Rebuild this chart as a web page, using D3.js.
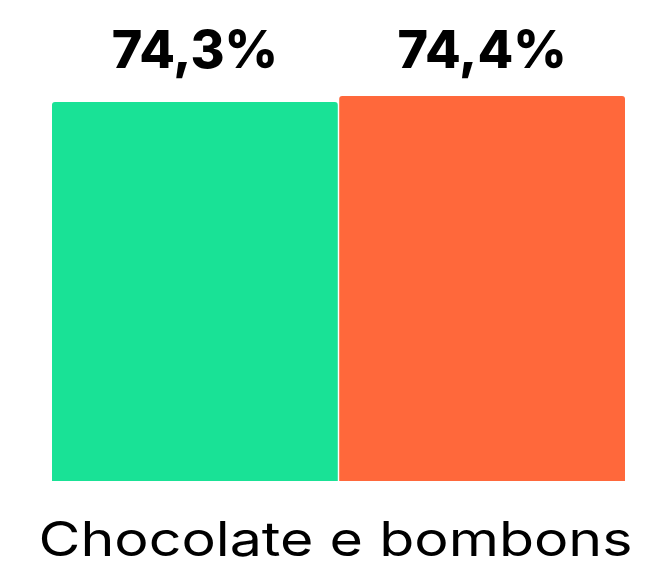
<!DOCTYPE html>
<meta charset="utf-8">
<title>bar chart</title>
<style>
    body { margin: 0; background: #fff; }
    text { font-family: Inter, "Open Sans", sans-serif; }
</style>
<body>
    <script src="https://d3js.org/d3.v7.min.js"></script>
    <div id="chart"></div>
    <script>
        var width = 646;
        var height = 567;

        // data
        var categories = ["Chocolate e bombons"];
        var series = ["A", "B"];
        var values = [74.3, 74.4];
        var valueLabels = ["74,3%", "74,4%"];
        var colors = ["#19e296", "#ff683b"];

        var svg = d3.select("#chart")
            .append("svg")
            .attr("width", width)
            .attr("height", height);

        var x0 = d3.scaleBand()
            .domain(categories)
            .range([52, 625]);

        var x1 = d3.scaleBand()
            .domain(series)
            .range([0, x0.bandwidth()])
            .paddingInner(0.005);

        // axis does not start at zero in the original
        var y = d3.scaleLinear()
            .domain([68, 74.4])
            .range([481, 96]);

        var g = svg.append("g");

        var bars = g.selectAll(".bar")
            .data(values)
            .enter().append("path")
            .attr("class", "bar")
            .attr("fill", function(d, i) { return colors[i]; })
            .attr("d", function(d, i) {
                var bx = x0(categories[0]) + x1(series[i]);
                var bw = x1.bandwidth();
                var top = y(d), bot = y.range()[0], r = 3;
                return "M" + bx + "," + bot +
                    "V" + (top + r) +
                    "Q" + bx + "," + top + " " + (bx + r) + "," + top +
                    "H" + (bx + bw - r) +
                    "Q" + (bx + bw) + "," + top + " " + (bx + bw) + "," + (top + r) +
                    "V" + bot + "Z";
            });

        g.selectAll(".value")
            .data(values)
            .enter().append("text")
            .attr("class", "value")
            .attr("x", function(d, i) { return x0(categories[0]) + x1(series[i]) + x1.bandwidth() / 2; })
            .attr("y", 68)
            .attr("text-anchor", "middle")
            .style("font-size", "52px")
            .style("font-weight", "800")
            .style("fill", "#000")
            .text(function(d, i) { return valueLabels[i]; });

        // the original font is wider, so stretch glyphs to the same span
        g.selectAll(".cat")
            .data(categories)
            .enter().append("text")
            .attr("class", "cat")
            .attr("x", function(d) { return x0(d) + x0.bandwidth() / 2 - 3; })
            .attr("y", 556)
            .attr("text-anchor", "middle")
            .attr("textLength", 594)
            .attr("lengthAdjust", "spacingAndGlyphs")
            .style("font-size", "48px")
            .style("fill", "#000")
            .text(function(d) { return d; });
    </script>
</body>
